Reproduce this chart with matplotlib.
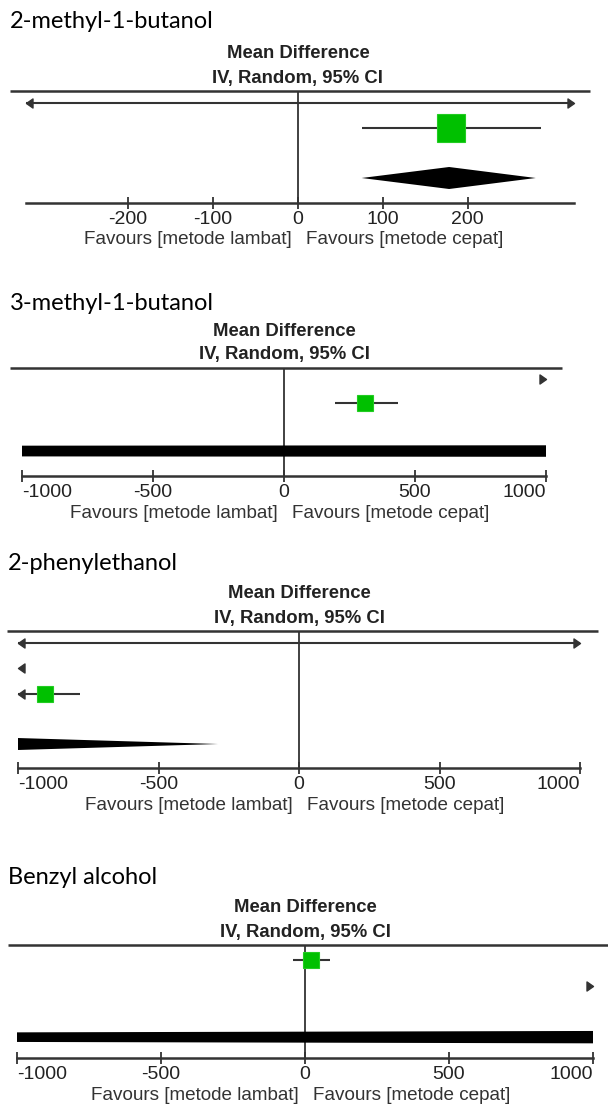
import matplotlib
matplotlib.use("Agg")
import matplotlib.pyplot as plt
from matplotlib.path import Path
import numpy as np

# ------------------------- data -------------------------
titles = ["2-methyl-1-butanol", "3-methyl-1-butanol", "2-phenylethanol", "Benzyl alcohol"]
header_line1 = "Mean Difference"
header_line2 = "IV, Random, 95% CI"
favours_left = "Favours [metode lambat]"
favours_right = "Favours [metode cepat]"

# 2-methyl-1-butanol
p1_md = [60, 180]
p1_lo = [-900, 75]
p1_hi = [1000, 286]
p1_wt = [0.5, 99.5]
p1_pool = [75, 178, 280]
p1_ticks = [-200, -100, 0, 100, 200]
p1_xlim = [-320, 325]

# 3-methyl-1-butanol
p2_md = [1400, 311]
p2_lo = [1150, 196]
p2_hi = [1650, 435]
p2_wt = [67, 33]
p2_pool = [-29000, 1040, 31000]
p2_ticks = [-1000, -500, 0, 500, 1000]
p2_xlim = [-1000, 1000]

# 2-phenylethanol
p3_md = [-1300, -2000, -904]
p3_lo = [-3500, -2600, -1100]
p3_hi = [2900, -1400, -779]
p3_wt = [0.5, 67, 33]
p3_pool = [-2992, -1640, -288]
p3_ticks = [-1000, -500, 0, 500, 1000]
p3_xlim = [-1000, 1000]

# Benzyl alcohol
p4_md = [21, 2000]
p4_lo = [-42, 1500]
p4_hi = [87, 2500]
p4_wt = [33, 67]
p4_pool = [-7870, 1350, 10570]
p4_ticks = [-1000, -500, 0, 500, 1000]
p4_xlim = [-1000, 1000]

# ------------------------- style -------------------------
W, H, DPI = 608, 1113, 100
PT = 72.0 / DPI          # points per pixel
LINE_C = "#333333"
TEXT_C = "#222222"
GREEN = "#00c000"
SANS = ["Liberation Sans", "DejaVu Sans"]
TITLE_FONT = ["Lato", "DejaVu Sans"]
plt.rcParams["axes.unicode_minus"] = False

panels = [
    dict(md=p1_md, lo=p1_lo, hi=p1_hi, wt=p1_wt, pool=p1_pool, ticks=p1_ticks, xlim=p1_xlim,
         ax_px=(26, 574, 91, 203), top_px=(10, 590), ylim=(5.0, 0.52), half_h=0.44, title_px=(10, 21)),
    dict(md=p2_md, lo=p2_lo, hi=p2_hi, wt=p2_wt, pool=p2_pool, ticks=p2_ticks, xlim=p2_xlim,
         ax_px=(22, 546, 368, 476), top_px=(10, 562), ylim=(5.04, 0.54), half_h=0.24, title_px=(10, 303)),
    dict(md=p3_md, lo=p3_lo, hi=p3_hi, wt=p3_wt, pool=p3_pool, ticks=p3_ticks, xlim=p3_xlim,
         ax_px=(18, 580, 631, 768), top_px=(7, 598), ylim=(5.95, 0.525), half_h=0.45, title_px=(8, 563)),
    dict(md=p4_md, lo=p4_lo, hi=p4_hi, wt=p4_wt, pool=p4_pool, ticks=p4_ticks, xlim=p4_xlim,
         ax_px=(17, 593, 945, 1058), top_px=(8, 608), ylim=(4.81, 0.42), half_h=0.25, title_px=(8, 877)),
]

left_tip = Path([(0, 0), (1, 0.7), (1, -0.7), (0, 0)], [1, 2, 2, 79])
right_tip = Path([(0, 0), (-1, 0.7), (-1, -0.7), (0, 0)], [1, 2, 2, 79])
ARROW_MS = 13 * PT
SQ_BASE = 28  # px side at 100% weight

fig = plt.figure(figsize=(W / DPI, H / DPI), dpi=DPI)
fig.patch.set_facecolor("white")


def draw_panel(p, title):
    x0, x1, yt, yb = p["ax_px"]
    ax = fig.add_axes([x0 / W, 1 - yb / H, (x1 - x0) / W, (yb - yt) / H])
    xmin, xmax = p["xlim"]
    ax.set_xlim(xmin, xmax)
    ax.set_ylim(*p["ylim"])
    ax.set_facecolor("none")
    for s in ["top", "left", "right"]:
        ax.spines[s].set_visible(False)
    ax.spines["bottom"].set_linewidth(1.8)
    ax.spines["bottom"].set_color(LINE_C)
    ax.set_yticks([])
    ax.set_xticks(p["ticks"])
    labels = ax.set_xticklabels([str(t) for t in p["ticks"]], fontfamily=SANS, fontsize=14,
                                color=TEXT_C)
    for t, lab in zip(p["ticks"], labels):
        if t == xmin:
            lab.set_ha("left")
        elif t == xmax:
            lab.set_ha("right")
    ax.tick_params(axis="x", direction="inout", length=9, width=1.3, pad=1.0, colors=LINE_C,
                   labelcolor=TEXT_C)

    # zero line
    ax.axvline(0, color=LINE_C, lw=1.3, zorder=1)
    # top rule (wider than the axis)
    tx0, tx1 = p["top_px"]
    ax.plot([(tx0 - x0) / (x1 - x0), (tx1 - x0) / (x1 - x0)], [1, 1], transform=ax.transAxes,
            color=LINE_C, lw=1.8, clip_on=False, solid_capstyle="butt")

    rows = np.arange(1, len(p["md"]) + 1)
    for r, m, l, h, w in zip(rows, p["md"], p["lo"], p["hi"], p["wt"]):
        if h < xmin:
            ax.plot([xmin], [r], marker=left_tip, ms=ARROW_MS, color=LINE_C, lw=0, clip_on=False)
            continue
        if l > xmax:
            ax.plot([xmax], [r], marker=right_tip, ms=ARROW_MS, color=LINE_C, lw=0, clip_on=False)
            continue
        a, b = max(l, xmin), min(h, xmax)
        ax.plot([a, b], [r, r], color=LINE_C, lw=1.5, solid_capstyle="butt", zorder=2)
        if l < xmin:
            ax.plot([xmin], [r], marker=left_tip, ms=ARROW_MS, color=LINE_C, lw=0, clip_on=False)
        if h > xmax:
            ax.plot([xmax], [r], marker=right_tip, ms=ARROW_MS, color=LINE_C, lw=0, clip_on=False)
        if xmin <= m <= xmax and w >= 1:
            side = SQ_BASE * np.sqrt(w / 100.0)
            ax.plot([m], [r], marker="s", ms=side * PT, color=GREEN, mec="#22cc22", mew=0.8,
                    lw=0, zorder=3)

    pr = len(p["md"]) + 2
    L, C, U = p["pool"]
    hh = p["half_h"]
    ax.fill([L, C, U, C], [pr, pr - hh, pr, pr + hh], color="black", lw=0, zorder=2)

    # headers
    ax.annotate(header_line1, xy=(0, 1), xycoords=("data", "axes fraction"),
                xytext=(0, 37 * PT), textcoords="offset points", ha="center", va="center",
                fontfamily=SANS, fontsize=13.3, fontweight="bold", color=TEXT_C)
    ax.annotate(header_line2, xy=(0, 1), xycoords=("data", "axes fraction"),
                xytext=(0, 13 * PT), textcoords="offset points", ha="center", va="center",
                fontfamily=SANS, fontsize=13.3, fontweight="bold", color=TEXT_C)
    # favours
    ax.annotate(favours_left, xy=(0, 0), xycoords=("data", "axes fraction"),
                xytext=(-6 * PT, -37 * PT), textcoords="offset points", ha="right", va="center",
                fontfamily=SANS, fontsize=13.6, color="#333333")
    ax.annotate(favours_right, xy=(0, 0), xycoords=("data", "axes fraction"),
                xytext=(8 * PT, -37 * PT), textcoords="offset points", ha="left", va="center",
                fontfamily=SANS, fontsize=13.6, color="#333333")
    # panel title
    tx, ty = p["title_px"]
    fig.text(tx / W, 1 - ty / H, title, ha="left", va="center", fontfamily=TITLE_FONT,
             fontsize=17, color="black")


for p, t in zip(panels, titles):
    draw_panel(p, t)

fig.savefig("out.png", dpi=DPI, facecolor="white")
